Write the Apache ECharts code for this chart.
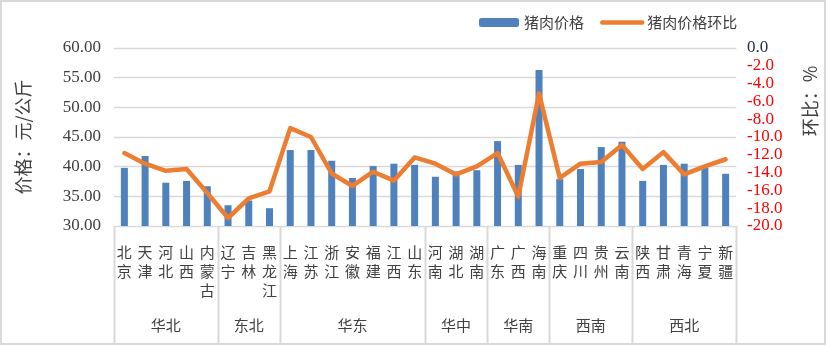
<!DOCTYPE html>
<html><head><meta charset="utf-8">
<script src="https://cdn.jsdelivr.net/npm/echarts@6/dist/echarts.min.js"></script>
<style>html,body{margin:0;padding:0;background:#fff}#c{width:827px;height:346px}</style>
</head><body><div id="c"></div>
<script>
const provinces = ['北京','天津','河北','山西','内蒙古','辽宁','吉林','黑龙江','上海','江苏','浙江','安徽','福建','江西','山东','河南','湖北','湖南','广东','广西','海南','重庆','四川','贵州','云南','陕西','甘肃','青海','宁夏','新疆'];
const regions = ['华北','东北','华东','华中','华南','西南','西北'];
const regionSizes = [5,3,7,3,3,4,5];
const prices = [39.8,41.8,37.3,37.6,36.7,33.5,34.3,33.0,42.8,42.8,41.0,38.1,40.1,40.5,40.3,38.3,39.2,39.4,44.3,40.3,56.3,37.9,39.6,43.3,44.2,37.6,40.3,40.5,39.8,38.8];
const mom = [-11.8,-13.0,-13.8,-13.6,-16.3,-19.1,-16.9,-16.1,-9.0,-10.0,-14.1,-15.5,-13.9,-14.9,-12.3,-13.0,-14.2,-13.3,-11.8,-16.7,-5.1,-14.6,-13.0,-12.8,-10.9,-13.6,-11.7,-14.2,-13.3,-12.5];
const priceAxis = {min:30, max:60, interval:5};
const momAxis = {min:-20, max:0, interval:2};
const seriesNames = ['猪肉价格','猪肉价格环比'];
const leftTitle = '价格：元/公斤';
const rightTitle = '环比：%';

const numFont = '"Liberation Serif", serif';
const cjkFont = '"Noto Sans CJK SC", sans-serif';
const chart = echarts.init(document.getElementById('c'));
chart.setOption({
  animation:false,
  backgroundColor:'#fff',
  legend:{
    data:[{name:seriesNames[0]},{name:seriesNames[1], itemStyle:{opacity:0, color:'rgba(0,0,0,0)', borderWidth:0}, lineStyle:{width:4.5, color:'#ED7D31', cap:'round'}}],
    left:474, top:10, itemWidth:40, itemHeight:9, itemGap:16,
    textStyle:{fontFamily:cjkFont, fontSize:15, color:'#404040'}
  },
  grid:{left:114, right:91, top:48, bottom:120},
  xAxis:{
    type:'category', data:provinces, boundaryGap:true,
    axisLine:{show:true, lineStyle:{color:'#D9D9D9', width:1}},
    axisTick:{show:false},
    axisLabel:{interval:0, margin:17, fontFamily:cjkFont, fontSize:15, lineHeight:19, color:'#404040', verticalAlign:'top',
      formatter:v=>v.split('').join('\n')}
  },
  yAxis:[
    {type:'value', min:priceAxis.min, max:priceAxis.max, interval:priceAxis.interval,
     axisLine:{show:false}, axisTick:{show:false},
     splitLine:{lineStyle:{color:'#D9D9D9', width:1.3}},
     axisLabel:{margin:13, fontFamily:numFont, fontSize:17, color:'#404040', formatter:v=>v.toFixed(2)},
     name:leftTitle, nameLocation:'middle', nameRotate:90, nameGap:82,
     nameTextStyle:{fontFamily:cjkFont, fontSize:18, color:'#404040'}
    },
    {type:'value', min:momAxis.min, max:momAxis.max, interval:momAxis.interval,
     axisLine:{show:false}, axisTick:{show:false}, splitLine:{show:false},
     axisLabel:{margin:11, fontFamily:numFont, fontSize:17,
       formatter:v=> v===0 ? '{z|0.0}' : '{r|'+v.toFixed(1)+'}',
       rich:{z:{color:'#1F2D4D', fontFamily:numFont, fontSize:17}, r:{color:'#FF0000', fontFamily:numFont, fontSize:17}}}
    }
  ],
  series:[
    {name:seriesNames[0], type:'bar', data:prices, barWidth:7, itemStyle:{color:'#4F81BD'}, yAxisIndex:0},
    {name:seriesNames[1], type:'line', data:mom, yAxisIndex:1, symbol:'none', smooth:false,
     lineStyle:{color:'#ED7D31', width:4.5, join:'round', cap:'round'}, itemStyle:{color:'#ED7D31'}}
  ]
});

// group separators and region labels positioned via the axis scale
const c0 = chart.convertToPixel({xAxisIndex:0}, 0);
const c1 = chart.convertToPixel({xAxisIndex:0}, 1);
const band = c1 - c0;
const yBase = chart.convertToPixel({yAxisIndex:0}, priceAxis.min);
const graphics = [];
let start = 0;
const bounds = [0];
regionSizes.forEach(n=>{start+=n; bounds.push(start);});
bounds.forEach(b=>{
  const x = b < provinces.length ? chart.convertToPixel({xAxisIndex:0}, b) - band/2 : chart.convertToPixel({xAxisIndex:0}, provinces.length-1) + band/2;
  graphics.push({type:'line', shape:{x1:Math.round(x)+0.5, y1:yBase, x2:Math.round(x)+0.5, y2:343}, style:{stroke:'#D9D9D9', lineWidth:2}, silent:true});
});
regions.forEach((r,i)=>{
  const a = chart.convertToPixel({xAxisIndex:0}, bounds[i]) - band/2;
  const b = chart.convertToPixel({xAxisIndex:0}, bounds[i+1]-1) + band/2;
  graphics.push({type:'text', x:(a+b)/2, y:325, style:{text:r, fill:'#404040', font:'15px "Noto Sans CJK SC", sans-serif', textAlign:'center', textVerticalAlign:'middle'}, silent:true});
});
graphics.push({type:'text', x:810, y:101, rotation:Math.PI/2, style:{text:rightTitle, fill:'#404040', font:'18px "Noto Sans CJK SC", sans-serif', textAlign:'center', textVerticalAlign:'middle'}, silent:true});
graphics.push({type:'rect', shape:{x:1, y:1, width:824, height:343}, style:{fill:'none', stroke:'#D9D9D9', lineWidth:2}, silent:true, z:100});
chart.setOption({graphic:graphics});
</script></body></html>
